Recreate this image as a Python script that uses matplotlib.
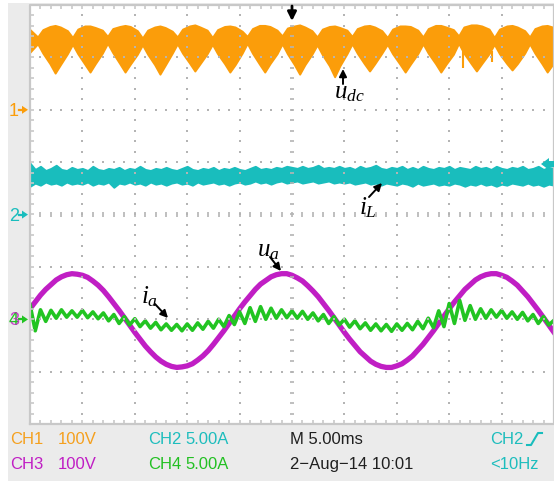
import matplotlib
matplotlib.use('Agg')
import matplotlib.pyplot as plt
from matplotlib import font_manager
from matplotlib.patches import Rectangle, Polygon
import numpy as np

# ---------------- data ----------------
# time axis: 5 ms/div, 10 divisions
t_step = np.arange(0, 50.01, 0.5)           # ms, 101 samples

# CH1 u_dc envelope (V), 100 V/div, marker at +2 div
udc_t = [0.0,
         0.73, 1.23, 1.9, 2.4, 2.9, 3.57,
         4.06, 4.56, 5.23, 5.73, 6.23, 6.9,
         7.4, 7.9, 8.57, 9.07, 9.57, 10.24,
         10.73, 11.23, 11.9, 12.4, 12.9, 13.57,
         14.06, 14.56, 15.23, 15.73, 16.23, 16.9,
         17.4, 17.9, 18.57, 19.07, 19.57, 20.24,
         20.73, 21.23, 21.9, 22.4, 22.9, 23.57,
         24.06, 24.56, 25.23, 25.73, 26.23, 26.9,
         27.4, 27.9, 28.57, 29.07, 29.57, 30.24,
         30.73, 31.23, 31.9, 32.4, 32.9, 33.57,
         34.1, 34.6, 35.3, 35.8, 36.3, 37.0,
         37.5, 38.0, 38.7, 39.2, 39.7, 40.4,
         40.9, 41.4, 42.1, 42.6, 43.1, 43.8,
         44.3, 44.8, 45.5, 46.0, 46.5, 47.2,
         47.68, 48.18, 48.85, 49.35, 49.85,
         50.0]
udc_hi = [153,
          139, 153, 159, 161, 158, 151,
          138, 154, 160, 160, 157, 152,
          140, 155, 159, 161, 159, 151,
          137, 152, 158, 160, 157, 150,
          139, 154, 160, 162, 158, 152,
          138, 153, 159, 160, 158, 150,
          140, 155, 161, 161, 159, 152,
          141, 156, 160, 162, 158, 151,
          139, 154, 159, 160, 157, 152,
          140, 155, 160, 161, 158, 151,
          138, 154, 160, 160, 159, 152,
          139, 155, 161, 161, 158, 153,
          141, 158, 162, 162, 160, 154,
          138, 154, 160, 161, 158, 151,
          139, 155, 160, 161, 158,
          154]
udc_lo = [110,
          126, 108, 88, 70, 86, 107,
          125, 107, 87, 72, 88, 108,
          127, 109, 88, 72, 87, 106,
          124, 106, 86, 68, 85, 108,
          126, 108, 89, 74, 88, 107,
          125, 107, 88, 72, 86, 108,
          127, 108, 87, 72, 88, 107,
          126, 107, 86, 68, 86, 106,
          124, 105, 84, 63, 84, 107,
          126, 108, 88, 74, 88, 108,
          125, 107, 87, 72, 87, 107,
          126, 108, 88, 72, 87, 106,
          127, 108, 88, 74, 88, 107,
          125, 107, 88, 76, 88, 108,
          126, 108, 88, 72, 86,
          105]
udc_spike_t = [41.3, 44.1, 45.0]
udc_spike_v = [80, 92, 98]

# CH2 i_L band (A), 5 A/div, marker at 0 div
iL_hi = [4.9, 4.3, 4.6, 4.2, 4.4, 4.7, 4.3, 4.2, 4.5, 4.3,
         4.4, 4.2, 4.6, 4.3, 4.2, 4.4, 4.3, 4.5, 4.2, 4.4,
         4.3, 4.6, 4.3, 4.2, 4.4, 4.3, 4.5, 4.3, 4.2, 4.4,
         4.6, 4.3, 4.2, 4.4, 4.3, 4.5, 4.2, 4.4, 4.3, 4.5,
         4.3, 4.2, 4.4, 4.6, 4.3, 4.4, 4.3, 4.5, 4.4, 4.6,
         4.5, 4.4, 4.6, 4.4, 4.5, 4.7, 4.4, 4.5, 4.4, 4.6,
         4.4, 4.5, 4.3, 4.6, 4.4, 4.5, 4.7, 4.4, 4.3, 4.5,
         4.4, 4.6, 4.3, 4.5, 4.3, 4.6, 4.4, 4.3, 4.5, 4.4,
         4.6, 4.3, 4.5, 4.4, 4.3, 4.6, 4.4, 4.5, 4.3, 4.6,
         4.4, 4.3, 4.5, 4.4, 4.6, 4.3, 4.4, 4.6, 4.3, 4.5,
         4.4]
iL_lo = [2.7, 3.0, 2.8, 3.1, 2.9, 3.0, 2.8, 3.1, 2.9, 3.0,
         2.9, 3.1, 2.8, 3.0, 2.9, 3.1, 2.6, 3.0, 2.9, 3.1,
         2.9, 3.0, 2.8, 3.1, 2.9, 3.0, 2.8, 3.0, 3.1, 2.9,
         3.0, 2.8, 3.1, 2.9, 3.0, 3.1, 2.9, 3.0, 2.8, 3.0,
         3.1, 2.9, 3.0, 3.2, 3.0, 3.1, 2.9, 3.1, 3.2, 3.0,
         3.1, 3.2, 3.0, 3.1, 3.2, 3.0, 3.1, 3.2, 3.0, 3.1,
         3.0, 3.1, 2.9, 3.0, 3.1, 2.9, 3.0, 2.8, 3.0, 2.9,
         2.8, 3.0, 2.9, 2.7, 3.0, 2.8, 2.9, 3.0, 2.8, 2.9,
         2.8, 3.0, 2.9, 2.7, 2.9, 2.8, 3.0, 2.8, 2.9, 2.7,
         2.9, 2.8, 3.0, 2.9, 2.8, 3.0, 2.8, 2.9, 2.7, 2.9,
         2.8]

# CH3 u_a (V), 100 V/div, marker at -2 div
ua = [20, 33, 46, 57, 66, 75, 81, 85, 87, 86,
      84, 80, 73, 65, 55, 43, 30, 17, 3, -11,
      -25, -38, -51, -62, -72, -80, -86, -90, -92, -91,
      -89, -85, -78, -70, -60, -48, -35, -22, -8, 6,
      20, 33, 45, 57, 67, 74, 81, 85, 87, 87,
      84, 79, 73, 64, 54, 43, 30, 17, 3, -11,
      -25, -38, -50, -62, -71, -80, -86, -90, -92, -92,
      -89, -85, -78, -70, -59, -48, -35, -22, -8, 6,
      20, 33, 45, 57, 66, 75, 81, 85, 87, 87,
      84, 80, 73, 65, 54, 43, 30, 17, 3, -11,
      -25]

# CH4 i_a (A), 5 A/div, marker at -2 div
ia = [1.4, -1.1, 0.9, -0.2, 0.85, 0.1, 0.9, 0.2, 0.8, 0.2,
      0.85, 0.15, 0.7, 0.05, 0.6, -0.15, 0.45, -0.4, 0.25, -0.55,
      0.05, -0.7, -0.15, -0.85, -0.3, -1.0, -0.45, -1.05, -0.5, -1.1,
      -0.45, -1.05, -0.35, -0.95, -0.2, -0.85, 0.0, -0.7, 0.35, -0.5,
      0.7, -0.4, 1.1, -0.2, 1.2, 0.0, 1.05, 0.1, 0.9, 0.15,
      0.8, 0.1, 0.75, 0.0, 0.6, -0.15, 0.45, -0.4, 0.25, -0.55,
      0.0, -0.75, -0.15, -0.9, -0.35, -1.05, -0.45, -1.1, -0.5, -1.15,
      -0.45, -1.05, -0.4, -1.0, -0.2, -0.9, 0.1, -0.8, 0.8, -0.7,
      1.5, -0.4, 1.8, -0.1, 1.3, 0.0, 1.0, 0.1, 0.9, 0.2,
      0.85, 0.1, 0.7, 0.0, 0.65, -0.15, 0.45, -0.4, 0.25, -0.55,
      -0.1]

ch_offset = {'CH1': 2, 'CH2': 0, 'CH3': -2, 'CH4': -2}
ch_scale = {'CH1': 100, 'CH2': 5, 'CH3': 100, 'CH4': 5}

row1 = [('CH1', 10, '#f5a01e'), ('100V', 58, '#f5a01e'), ('CH2', 148, '#1dbdbd'),
        ('5.00A', 185, '#1dbdbd'), ('M 5.00ms', 290, '#202020'), ('CH2', 490, '#1dbdbd')]
row2 = [('CH3', 10, '#c01ec4'), ('100V', 58, '#c01ec4'), ('CH4', 148, '#22c022'),
        ('5.00A', 185, '#22c022'), ('2\u2212Aug\u221214 10:01', 290, '#202020'),
        ('<10Hz', 490, '#1dbdbd')]

# ---------------- styling ----------------
C_OR = '#fb9d0a'
C_CY = '#19bdbd'
C_MG = '#c01ec4'
C_GR = '#22c422'
GRID = '#b4b4b4'

plt.rcParams['mathtext.fontset'] = 'custom'
plt.rcParams['mathtext.rm'] = 'Liberation Serif'
plt.rcParams['mathtext.it'] = 'Liberation Serif:italic'

def has_font(name):
    try:
        font_manager.findfont(name, fallback_to_default=False)
        return True
    except Exception:
        return False

UI_FONT = 'Liberation Sans Narrow' if has_font('Liberation Sans Narrow') else 'Liberation Sans'

W, H = 554, 485
fig = plt.figure(figsize=(W / 100, H / 100), dpi=100)
fig.patch.set_facecolor('white')

bg = fig.add_axes([0, 0, 1, 1], zorder=0)
bg.set_xlim(0, W); bg.set_ylim(H, 0); bg.axis('off')
bg.add_patch(Rectangle((8, 4), W - 8, 478, color='#ebebeb', lw=0))

ax = fig.add_axes([30 / W, (H - 425) / H, 524 / W, 419 / H], zorder=1)
ax.set_xlim(0, 50); ax.set_ylim(-4, 4)
ax.set_facecolor('white')
ax.set_xticks([]); ax.set_yticks([])
for s in ax.spines.values():
    s.set_visible(False)

def scr(v, ch):
    return ch_offset[ch] + np.asarray(v, dtype=float) / ch_scale[ch]

# traces
ax.fill_between(udc_t, scr(udc_lo, 'CH1'), scr(udc_hi, 'CH1'), color=C_OR, lw=1.4, zorder=2)
ax.vlines(udc_spike_t, scr(udc_spike_v, 'CH1'), scr([112] * 3, 'CH1'), color=C_OR, lw=1.5, zorder=2)
ax.fill_between(t_step, scr(iL_lo, 'CH2'), scr(iL_hi, 'CH2'), color=C_CY, lw=1.4, zorder=2)
ax.plot(t_step, scr(ua, 'CH3'), color=C_MG, lw=3.8, solid_joinstyle='round', zorder=3)
ax.plot(t_step, scr(ia, 'CH4'), color=C_GR, lw=2.6, solid_joinstyle='round', zorder=4)

# graticule
xs_minor = np.arange(0, 50.01, 1.0)
ys_minor = np.arange(-4, 4.001, 0.2)
for yd in [-3, -2, -1, 1, 2, 3]:
    ax.scatter(xs_minor, np.full_like(xs_minor, yd), s=2.2, marker='s', color=GRID, lw=0, zorder=10)
for xd in [5, 10, 15, 20, 30, 35, 40, 45]:
    ax.scatter(np.full_like(ys_minor, xd), ys_minor, s=2.2, marker='s', color=GRID, lw=0, zorder=10)
ax.vlines(xs_minor, -0.045, 0.045, color=GRID, lw=1.2, zorder=10)
ax.hlines(ys_minor, 25 - 0.2, 25 + 0.2, color=GRID, lw=1.2, zorder=10)
# border + edge ticks
ax.plot([0, 0, 50, 50, 0], [-4, 4, 4, -4, -4], color='#c8c8c8', lw=1.6, zorder=11, clip_on=False)
ax.vlines(xs_minor, 4 - 0.08, 4, color='#c8c8c8', lw=1.2, zorder=11, clip_on=False)
ax.vlines(xs_minor, -4, -4 + 0.08, color='#c8c8c8', lw=1.2, zorder=11, clip_on=False)
ax.hlines(ys_minor, 0, 0.38, color='#c8c8c8', lw=1.2, zorder=11, clip_on=False)

# ---------------- overlay (pixel coordinates) ----------------
ov = fig.add_axes([0, 0, 1, 1], zorder=3)
ov.set_xlim(0, W); ov.set_ylim(H, 0); ov.axis('off')

def px_y(div):
    return 215.6 - div * 52.4

def ch_marker(label, y, color, alpha=1.0):
    ov.text(9, y + 0.5, label, color=color, fontsize=13, ha='left', va='center',
            family=UI_FONT, alpha=alpha)
    ov.plot([19, 23], [y, y], color=color, lw=1.6)
    ov.add_patch(Polygon([(22, y - 4), (28, y), (22, y + 4)], closed=True, color=color, lw=0))

ch_marker('1', px_y(ch_offset['CH1']), C_OR)
ch_marker('2', px_y(ch_offset['CH2']), C_CY)
ch_marker('4', px_y(ch_offset['CH4']), C_GR)
ov.text(9, px_y(ch_offset['CH3']) + 0.5, '3', color=C_MG, fontsize=13, ha='left', va='center',
        family=UI_FONT, alpha=0.8)

# trigger position arrow (top) and trigger level marker (right)
ov.annotate('', xy=(292, 22), xytext=(292, 7),
            arrowprops=dict(arrowstyle='-|>', color='black', lw=2.0, mutation_scale=13,
                            shrinkA=0, shrinkB=0))
ov.add_patch(Polygon([(541, 165), (549, 159), (549, 171)], closed=True, color=C_CY, lw=0))
ov.add_patch(Rectangle((548, 162), 6, 6, color=C_CY, lw=0))

# annotations
def arrow(tail, head):
    ov.annotate('', xy=head, xytext=tail,
                arrowprops=dict(arrowstyle='-|>', color='black', lw=1.4, mutation_scale=11,
                                shrinkA=0, shrinkB=0))

ov.text(334, 98, r'$u_{dc}$', fontsize=18, color='black', ha='left', va='baseline')
arrow((343, 85), (343, 70))
ov.text(359, 214, r'$i_{L}$', fontsize=18, color='black', ha='left', va='baseline')
arrow((369, 198), (382, 184))
ov.text(257, 256, r'$u_{a}$', fontsize=18, color='black', ha='left', va='baseline')
arrow((270, 258), (281, 272))
ov.text(141, 303, r'$i_{a}$', fontsize=18, color='black', ha='left', va='baseline')
arrow((155, 305), (168, 319))

# status text
for txt, x, col in row1:
    ov.text(x, 440, txt, color=col, fontsize=12, family=UI_FONT, ha='left', va='center')
for txt, x, col in row2:
    ov.text(x, 465, txt, color=col, fontsize=12, family=UI_FONT, ha='left', va='center')
ov.plot([527, 531, 538, 542], [446, 446, 434, 434], color=C_CY, lw=1.5)

fig.savefig('out.png', dpi=100)
